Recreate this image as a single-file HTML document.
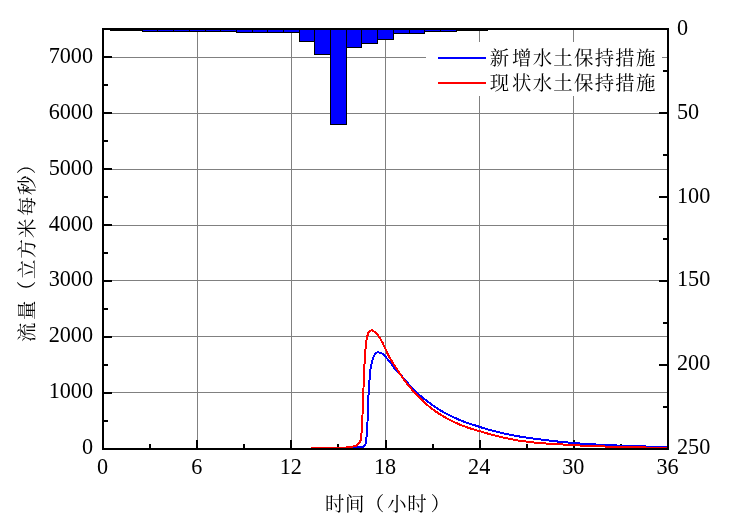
<!DOCTYPE html>
<html lang="zh"><head><meta charset="utf-8"><title>流量过程线</title>
<style>html,body{margin:0;padding:0;background:#fff}body{width:748px;height:531px;overflow:hidden}svg{display:block}text{font-family:"Liberation Serif", "Noto Serif CJK SC", serif;fill:#000}.n{font-size:22.2px}.c{font-size:19.4px;font-weight:400}</style>
</head><body>
<svg width="748" height="531" viewBox="0 0 748 531">
<rect width="748" height="531" fill="#fff"/>
<g stroke="#808080" stroke-width="1" shape-rendering="crispEdges">
<line x1="197.5" y1="29" x2="197.5" y2="449"/>
<line x1="291.5" y1="29" x2="291.5" y2="449"/>
<line x1="385.5" y1="29" x2="385.5" y2="449"/>
<line x1="479.5" y1="29" x2="479.5" y2="449"/>
<line x1="573.5" y1="29" x2="573.5" y2="449"/>
<line x1="103" y1="392.5" x2="668" y2="392.5"/>
<line x1="103" y1="336.5" x2="668" y2="336.5"/>
<line x1="103" y1="280.5" x2="668" y2="280.5"/>
<line x1="103" y1="225.5" x2="668" y2="225.5"/>
<line x1="103" y1="169.5" x2="668" y2="169.5"/>
<line x1="103" y1="113.5" x2="668" y2="113.5"/>
<line x1="103" y1="57.5" x2="668" y2="57.5"/>
</g>
<g fill="#0000ff" stroke="#000" stroke-width="1" shape-rendering="crispEdges">
<rect x="110.5" y="29.5" width="16.0" height="1.0"/>
<rect x="126.5" y="29.5" width="16.0" height="1.0"/>
<rect x="142.5" y="29.5" width="15.0" height="2.0"/>
<rect x="157.5" y="29.5" width="16.0" height="2.0"/>
<rect x="173.5" y="29.5" width="16.0" height="2.0"/>
<rect x="189.5" y="29.5" width="16.0" height="2.0"/>
<rect x="205.5" y="29.5" width="15.0" height="2.0"/>
<rect x="220.5" y="29.5" width="16.0" height="2.0"/>
<rect x="236.5" y="29.5" width="16.0" height="3.0"/>
<rect x="252.5" y="29.5" width="15.0" height="3.0"/>
<rect x="267.5" y="29.5" width="16.0" height="3.0"/>
<rect x="283.5" y="29.5" width="16.0" height="3.0"/>
<rect x="299.5" y="29.5" width="15.0" height="12.0"/>
<rect x="314.5" y="29.5" width="16.0" height="25.0"/>
<rect x="330.5" y="29.5" width="16.0" height="95.0"/>
<rect x="346.5" y="29.5" width="15.0" height="18.0"/>
<rect x="361.5" y="29.5" width="16.0" height="14.0"/>
<rect x="377.5" y="29.5" width="16.0" height="10.0"/>
<rect x="393.5" y="29.5" width="16.0" height="4.0"/>
<rect x="409.5" y="29.5" width="15.0" height="4.0"/>
<rect x="424.5" y="29.5" width="16.0" height="2.0"/>
<rect x="440.5" y="29.5" width="16.0" height="2.0"/>
<rect x="456.5" y="29.5" width="15.0" height="1.0"/>
<rect x="471.5" y="29.5" width="16.0" height="1.0"/>
</g>
<g stroke="#000" stroke-width="2" shape-rendering="crispEdges" fill="none">
<rect x="103" y="29" width="565" height="420"/>
<line x1="150" y1="448" x2="150" y2="444"/>
<line x1="197" y1="448" x2="197" y2="440"/>
<line x1="244" y1="448" x2="244" y2="444"/>
<line x1="291" y1="448" x2="291" y2="440"/>
<line x1="338" y1="448" x2="338" y2="444"/>
<line x1="386" y1="448" x2="386" y2="440"/>
<line x1="433" y1="448" x2="433" y2="444"/>
<line x1="480" y1="448" x2="480" y2="440"/>
<line x1="527" y1="448" x2="527" y2="444"/>
<line x1="574" y1="448" x2="574" y2="440"/>
<line x1="621" y1="448" x2="621" y2="444"/>
<line x1="104" y1="421" x2="108" y2="421"/>
<line x1="104" y1="393" x2="112" y2="393"/>
<line x1="104" y1="365" x2="108" y2="365"/>
<line x1="104" y1="337" x2="112" y2="337"/>
<line x1="104" y1="309" x2="108" y2="309"/>
<line x1="104" y1="281" x2="112" y2="281"/>
<line x1="104" y1="253" x2="108" y2="253"/>
<line x1="104" y1="225" x2="112" y2="225"/>
<line x1="104" y1="197" x2="108" y2="197"/>
<line x1="104" y1="169" x2="112" y2="169"/>
<line x1="104" y1="141" x2="108" y2="141"/>
<line x1="104" y1="113" x2="112" y2="113"/>
<line x1="104" y1="85" x2="108" y2="85"/>
<line x1="104" y1="57" x2="112" y2="57"/>
<line x1="667" y1="71" x2="663" y2="71"/>
<line x1="667" y1="113" x2="659" y2="113"/>
<line x1="667" y1="155" x2="663" y2="155"/>
<line x1="667" y1="197" x2="659" y2="197"/>
<line x1="667" y1="239" x2="663" y2="239"/>
<line x1="667" y1="281" x2="659" y2="281"/>
<line x1="667" y1="323" x2="663" y2="323"/>
<line x1="667" y1="365" x2="659" y2="365"/>
<line x1="667" y1="407" x2="663" y2="407"/>
</g>
<clipPath id="cp"><rect x="103" y="29" width="565" height="419"/></clipPath>
<g clip-path="url(#cp)">
<polyline fill="none" stroke="#0000ff" stroke-width="2" stroke-linejoin="round" shape-rendering="crispEdges" points="311.0,448.0 352.5,448.0 353.5,447.0 362.5,447.0 364.5,446.0 365.5,444.5 366.0,441.3 366.5,437.7 367.0,430.0 367.5,421.9 368.0,409.0 368.5,395.7 369.0,388.0 369.5,379.9 370.0,374.3 370.5,368.8 371.2,365.0 371.9,362.0 372.6,359.5 373.6,356.4 375.5,353.7 377.9,352.0 382.3,353.7 385.8,357.2 389.0,360.7 392.9,366.1 395.3,369.2 400.0,374.3 404.8,379.3 408.7,384.2 412.7,388.4 415.0,391.0 419.0,394.6 423.0,398.0 427.0,400.9 431.0,404.0 435.0,406.8 439.1,409.5 443.1,411.9 447.1,414.1 451.1,416.1 455.1,417.9 459.1,419.7 463.1,421.4 467.1,423.0 471.1,424.2 475.0,425.3 479.6,426.9 490.0,430.1 503.4,433.4 516.8,436.1 530.2,438.1 543.5,439.8 556.9,441.4 560.0,442.0 567.0,442.0 569.0,443.0 579.0,443.0 581.0,444.0 595.0,444.0 597.0,445.0 616.0,445.0 618.0,446.0 645.0,446.0 647.0,447.0 667.0,447.0"/>
<polyline fill="none" stroke="#ff0000" stroke-width="2" stroke-linejoin="round" shape-rendering="crispEdges" points="311.0,448.0 345.5,448.0 346.5,447.0 352.5,447.0 353.5,446.0 355.5,446.0 357.0,445.0 358.5,443.8 359.5,442.4 360.0,441.6 360.5,440.8 361.0,437.2 361.5,433.7 362.0,424.2 362.5,414.7 363.0,401.2 363.5,387.8 364.0,376.0 364.5,364.0 365.0,356.5 365.5,349.0 366.0,344.6 366.5,340.2 367.3,336.0 368.3,333.0 370.0,331.3 372.0,329.8 374.9,332.2 377.9,334.9 380.5,339.0 382.7,343.0 385.4,349.0 389.0,356.4 392.9,362.9 396.9,369.2 400.8,375.2 404.8,380.7 408.7,385.8 412.7,390.4 415.0,393.0 419.0,397.2 423.0,401.2 427.0,404.8 431.0,408.0 435.0,411.0 439.1,413.7 443.1,416.1 447.1,418.5 451.1,420.5 455.1,422.5 459.1,424.3 463.1,425.9 467.1,427.4 471.1,428.7 475.0,429.9 479.6,431.1 490.0,434.3 503.4,437.6 516.8,440.3 530.2,442.1 543.5,443.4 556.9,444.0 562.0,444.0 564.0,445.0 579.0,445.0 581.0,446.0 604.0,446.0 606.0,447.0 645.0,447.0 647.0,448.0 667.0,448.0"/>
</g>
<rect x="426" y="42" width="236" height="54" fill="#fff"/>
<line x1="438" y1="58" x2="486" y2="58" stroke="#0000ff" stroke-width="2" shape-rendering="crispEdges"/>
<line x1="438" y1="83" x2="486" y2="83" stroke="#ff0000" stroke-width="2" shape-rendering="crispEdges"/>
<text class="c" x="489.70 512.05 532.70 553.35 574.00 594.65 615.30 635.95" y="65">新增水土保持措施</text>
<text class="c" x="489.70 512.05 532.70 553.35 574.00 594.65 615.30 635.95" y="90">现状水土保持措施</text>
<g class="n" text-anchor="end">
<text x="93" y="454">0</text>
<text x="93" y="398">1000</text>
<text x="93" y="342">2000</text>
<text x="93" y="286">3000</text>
<text x="93" y="231">4000</text>
<text x="93" y="175">5000</text>
<text x="93" y="119">6000</text>
<text x="93" y="63">7000</text>
</g>
<g class="n" text-anchor="start">
<text x="677" y="35">0</text>
<text x="677" y="119">50</text>
<text x="677" y="203">100</text>
<text x="677" y="286">150</text>
<text x="677" y="370">200</text>
<text x="677" y="454">250</text>
</g>
<g class="n" text-anchor="middle">
<text x="102.5" y="474">0</text>
<text x="196.7" y="474">6</text>
<text x="290.8" y="474">12</text>
<text x="385.0" y="474">18</text>
<text x="479.2" y="474">24</text>
<text x="573.3" y="474">30</text>
<text x="667.5" y="474">36</text>
</g>
<text class="c" x="325 345.1 364.85 387.3 407.2 430.7" y="511">时间（小时）</text>
<text class="c" x="-341.90 -319.90 -300.20 -279.00 -258.45 -238.10 -215.90 -195.10 -174.20" y="0" transform="translate(34,0) rotate(-90)">流量（立方米每秒）</text>
</svg>
</body></html>
